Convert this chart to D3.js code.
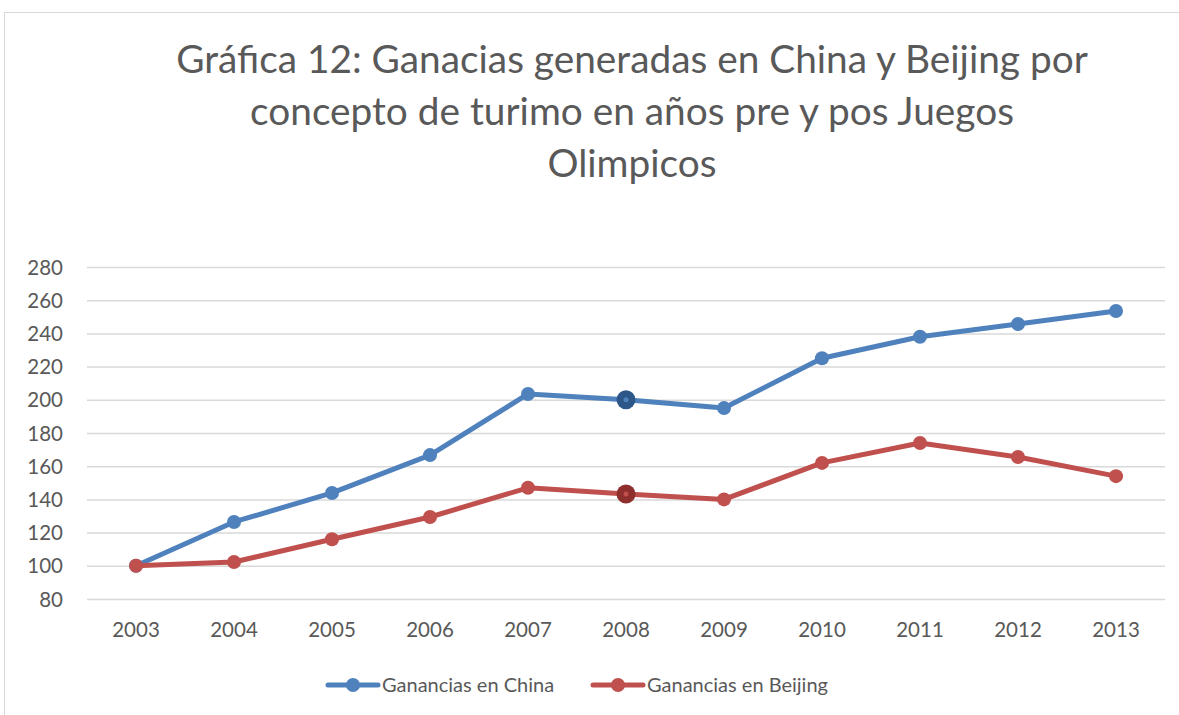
<!DOCTYPE html>
<html><head><meta charset="utf-8">
<script src="https://cdn.jsdelivr.net/npm/d3@7"></script>
<style>html,body{margin:0;padding:0;background:#fff;}svg{display:block;}</style>
</head><body>
<svg id="chart" width="1179" height="715"></svg>
<script>
const years = ["2003","2004","2005","2006","2007","2008","2009","2010","2011","2012","2013"];
const china = [100,126.4,143.9,166.7,203.5,200,195,225,238,245.7,253.5];
const beijing = [100,102.3,116,129.4,147,143.3,140,162,174,165.5,154];
const yTicks = [80,100,120,140,160,180,200,220,240,260,280];
const titleLines = ["Gráfica 12: Ganacias generadas en China y Beijing por","concepto de turimo en años pre y pos Juegos","Olimpicos"];
const seriesNames = ["Ganancias en China","Ganancias en Beijing"];
const highlightYear = "2008";

const font = "Lato, 'Open Sans', sans-serif";
const svg = d3.select("#chart");
svg.append("rect").attr("x",4.5).attr("y",12.5).attr("width",1200).attr("height",800)
  .attr("fill","#fff").attr("stroke","#d9d9d9").attr("stroke-width",1);

const x = d3.scaleBand().domain(years).range([87,1165]);
const y = d3.scaleLinear().domain([80,280]).range([599,267]);

// title
svg.append("g").selectAll("text").data(titleLines).join("text")
  .attr("x",632).attr("y",(d,i)=>73+i*52).attr("text-anchor","middle")
  .attr("font-family",font).attr("font-size",38.8).attr("fill","#595959").text(d=>d);

// grid
const yAxis = d3.axisLeft(y).tickValues(yTicks).tickSize(-(1165-87)).tickPadding(24);
const gy = svg.append("g").attr("transform","translate(87,0)").call(yAxis);
gy.select(".domain").remove();
gy.selectAll(".tick line").attr("stroke","#d9d9d9").attr("stroke-width",1.5);
gy.selectAll(".tick text").attr("font-family",font).attr("font-size",20.5).attr("fill","#595959").attr("dy","0.35em");

const xAxis = d3.axisBottom(x).tickSize(0).tickPadding(23);
const gx = svg.append("g").attr("transform","translate(0,599)").call(xAxis);
gx.select(".domain").remove();
gx.selectAll(".tick text").attr("font-family",font).attr("font-size",20.5).attr("fill","#595959");

const colors = ["#4f81bd","#c0504d"];
const darks = ["#2c5788","#8f2f2d"];
const data = [china, beijing];
const line = d3.line().x((d,i)=>x(years[i])+x.bandwidth()/2).y(d=>y(d));
data.forEach((vals,si)=>{
  svg.append("path").datum(vals).attr("d",line).attr("fill","none")
    .attr("stroke",colors[si]).attr("stroke-width",5).attr("stroke-linejoin","round");
  const g = svg.append("g");
  g.selectAll("circle").data(vals).join("circle")
    .attr("cx",(d,i)=>x(years[i])+x.bandwidth()/2).attr("cy",d=>y(d))
    .attr("r",(d,i)=>years[i]===highlightYear?9.5:7)
    .attr("fill",(d,i)=>years[i]===highlightYear?darks[si]:colors[si]);
  g.selectAll("circle.inner").data(vals.filter((d,i)=>years[i]===highlightYear)).join("circle")
    .attr("class","inner")
    .attr("cx",x(highlightYear)+x.bandwidth()/2).attr("cy",d=>y(d)).attr("r",2.5)
    .attr("fill",colors[si]);
});

// legend
const legX = [328,593];
seriesNames.forEach((name,i)=>{
  const g = svg.append("g").attr("transform",`translate(${legX[i]},685)`);
  g.append("line").attr("x1",0).attr("x2",50).attr("y1",0).attr("y2",0)
    .attr("stroke",colors[i]).attr("stroke-width",5).attr("stroke-linecap","round");
  g.append("circle").attr("cx",25).attr("cy",0).attr("r",7).attr("fill",colors[i]);
  g.append("text").attr("x",54).attr("y",0).attr("dy","0.35em")
    .attr("font-family",font).attr("font-size",20).attr("fill","#595959").text(name);
});
</script>
</body></html>
